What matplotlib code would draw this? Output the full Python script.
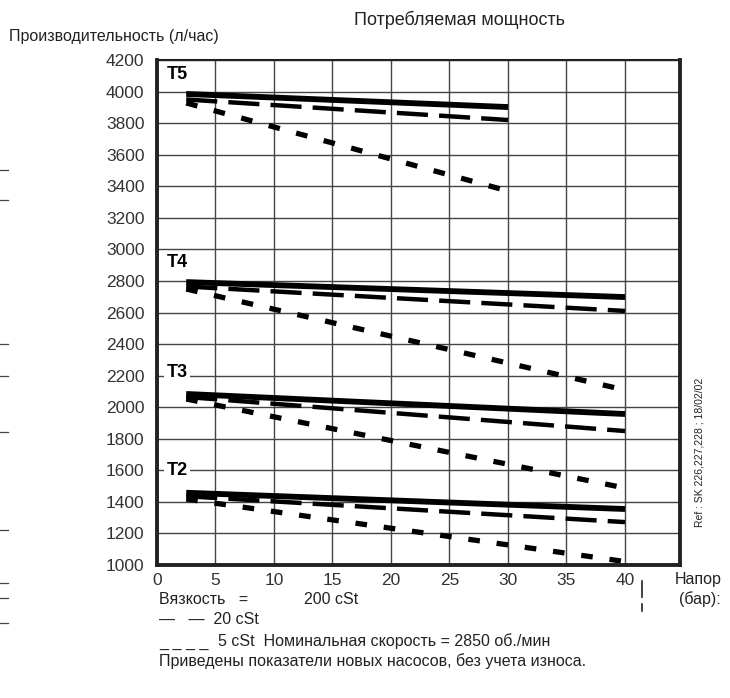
import matplotlib
matplotlib.use("Agg")
import matplotlib.pyplot as plt
from matplotlib.lines import Line2D

plt.rcParams['font.family'] = ['Liberation Sans Narrow', 'Liberation Sans', 'DejaVu Sans']

# Pressure (bar) at start / end of each curve
pressure_t5 = [2.5, 30]
pressure_other = [2.5, 40]

# Flow (l/h) per pump size and viscosity: [start, end]
t5_200 = [3985, 3902]
t5_20 = [3950, 3820]
t5_5 = [3928, 3370]

t4_200 = [2793, 2698]
t4_20 = [2765, 2610]
t4_5 = [2749, 2109]

t3_200 = [2084, 1957]
t3_20 = [2065, 1849]
t3_5 = [2052, 1488]

t2_200 = [1458, 1355]
t2_20 = [1436, 1272]
t2_5 = [1418, 1022]

pump_labels = ["T5", "T4", "T3", "T2"]
label_y = [4110, 2920, 2220, 1600]

x_ticks = [0, 5, 10, 15, 20, 25, 30, 35, 40]
y_ticks = list(range(1000, 4201, 200))

fig = plt.figure(figsize=(7.30, 6.98), dpi=100)
ax = fig.add_axes([0.215, 0.1905, 0.7165, 0.7235])
ax.set_xlim(0, 44.7)
ax.set_ylim(1000, 4200)

ax.set_xticks(x_ticks + [44.7])
ax.set_xticklabels([str(t) for t in x_ticks] + [""])
ax.set_yticks(y_ticks)
ax.grid(True, color="#444444", linewidth=1.0)
ax.set_axisbelow(True)
ax.tick_params(length=0, labelsize=12.5, colors="#333333")
ax.tick_params(axis='x', pad=6)
ax.tick_params(axis='y', pad=9)
for side, lw in (("left", 2.8), ("right", 2.8), ("bottom", 2.8), ("top", 1.5)):
    ax.spines[side].set_linewidth(lw)
    ax.spines[side].set_color("#222222")

solid_kw = dict(color="black", linewidth=4.2, solid_capstyle="butt")
long_kw = dict(color="black", linewidth=3.2, dashes=(7, 2.5), dash_capstyle="butt")
short_kw = dict(color="black", linewidth=3.8, dashes=(2.2, 3.2), dash_capstyle="butt")

groups = [
    (pressure_t5, t5_200, t5_20, t5_5),
    (pressure_other, t4_200, t4_20, t4_5),
    (pressure_other, t3_200, t3_20, t3_5),
    (pressure_other, t2_200, t2_20, t2_5),
]
for xs, s200, s20, s5 in groups:
    ax.plot(xs, s5, **short_kw)
    ax.plot(xs, s20, **long_kw)
    ax.plot(xs, s200, **solid_kw)

for name, yv in zip(pump_labels, label_y):
    ax.text(0.8, yv, name, fontsize=13, fontweight="bold", color="black",
            ha="left", va="center",
            bbox=dict(facecolor="white", edgecolor="none", pad=1.5))

# Titles and axis captions
fig.text(0.63, 0.972, "Потребляемая мощность", fontsize=13, color="#222222",
         ha="center", va="center")
fig.text(0.012, 0.947, "Производительность (л/час)", fontsize=11.5, color="#222222",
         ha="left", va="center")
fig.text(0.988, 0.155, "Напор\n(бар):", fontsize=11.5, color="#222222",
         ha="right", va="center", linespacing=1.3)
fig.lines.append(Line2D([0.879, 0.879], [0.145, 0.168], transform=fig.transFigure,
                        color="#222222", linewidth=1.2))
fig.lines.append(Line2D([0.879, 0.879], [0.125, 0.135], transform=fig.transFigure,
                        color="#222222", linewidth=1.2))

# Viscosity legend and notes
fig.text(0.218, 0.141, "Вязкость   =", fontsize=11.5, color="#222222", va="center")
fig.text(0.417, 0.141, "200 cSt", fontsize=11.5, color="#222222", va="center")
fig.text(0.218, 0.113, "—   —  20 cSt", fontsize=11.5, color="#222222", va="center")
fig.text(0.218, 0.080, "_ _ _ _", fontsize=11.5, color="#222222", va="center")
fig.text(0.298, 0.082, "5 cSt  Номинальная скорость = 2850 об./мин", fontsize=11.5,
         color="#222222", va="center")
fig.text(0.218, 0.053, "Приведены показатели новых насосов, без учета износа.",
         fontsize=11.5, color="#222222", va="center")

fig.text(0.958, 0.352, "Ref : SK 226,227,228 ; 18/02/02", fontsize=7.5, color="#222222",
         rotation=90, ha="center", va="center")

# Short marks along the left border
for yf in (0.756, 0.713, 0.507, 0.461, 0.381, 0.24, 0.165, 0.143, 0.107):
    fig.lines.append(Line2D([0.0, 0.011], [yf, yf], transform=fig.transFigure,
                            color="#444444", linewidth=0.9))

fig.savefig("out.png", dpi=100, facecolor="white")
